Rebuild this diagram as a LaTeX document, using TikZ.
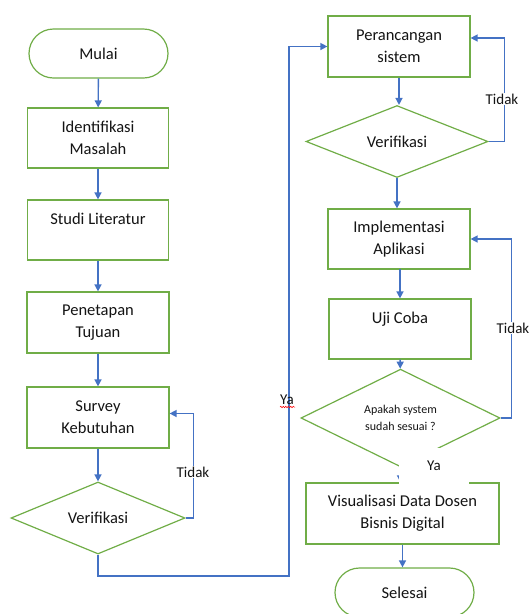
\documentclass[tikz,border=0pt]{standalone}
\usepackage{fontspec}
\setmainfont{Carlito}
\usetikzlibrary{shapes.geometric,arrows.meta,decorations.pathmorphing}
\definecolor{gr}{RGB}{112,173,71}
\definecolor{bl}{RGB}{68,114,196}
\definecolor{tx}{RGB}{20,20,20}
\begin{document}
\begin{tikzpicture}[x=1pt,y=-1pt,
  box/.style={draw=gr, line width=1.2pt, fill=white, minimum width=142pt, minimum height=61pt,
    inner sep=0pt, align=center, font=\fontsize{16.5}{22}\selectfont, text=tx},
  term/.style={box, rounded corners=24.5pt, minimum height=49pt, minimum width=139pt},
  dec/.style={draw=gr, line width=1.2pt, diamond, inner sep=0pt, align=center,
    font=\fontsize{16.5}{22}\selectfont, text=tx},
  arr/.style={draw=bl, line width=1.4pt, -{Triangle[width=7pt,length=7pt]}},
  lbl/.style={font=\fontsize{15}{17}\selectfont, text=tx, fill=white, inner sep=1pt}]
\useasboundingbox (0,0) rectangle (530,614);
\clip (0,0) rectangle (530,614);
% left column
\node[term] (mulai) at (98.5,53.5) {Mulai};
\node[box, minimum width=141pt, minimum height=60pt] (ident) at (98,138) {Identifikasi\\Masalah};
\node[box, minimum width=141pt, minimum height=60pt] (studi) at (98,230) {Studi Literatur\\\mbox{}};
\node[box] (tujuan) at (98,322.5) {Penetapan\\Tujuan};
\node[box] (survey) at (98,417.5) {Survey\\Kebutuhan};
\node[dec, minimum width=174pt, minimum height=72pt] (v1) at (98,518) {Verifikasi};
% right column
\node[box] (ranc) at (399,46.5) {Perancangan\\sistem};
\node[dec, minimum width=182pt, minimum height=63pt] (v2) at (397,141.5) {Verifikasi};
\node[box, minimum height=60pt] (impl) at (399,239) {Implementasi\\Aplikasi};
\node[box, minimum height=60pt] (uji) at (400,329) {Uji Coba\\\mbox{}};
\node[dec, minimum width=199pt, minimum height=81pt, font=\fontsize{12}{16.5}\selectfont] (v3) at (400.5,418) {Apakah system\\sudah sesuai ?};
\node[box, minimum width=193pt] (vis) at (402.5,513.5) {Visualisasi Data Dosen\\Bisnis Digital};
\node[term] (selesai) at (404.5,592.5) {Selesai};
\coordinate (ya1) at (289,576);
% connectors
\draw[arr] (mulai) -- (ident);
\draw[arr] (ident) -- (studi);
\draw[arr] (studi) -- (tujuan);
\draw[arr] (tujuan) -- (survey);
\draw[arr] (survey) -- (v1);
\draw[arr] (v1.east) -- ++(8,0) |- ([yshift=4pt]survey.east);
\draw[arr] (v1.south) |- (ya1) |- (ranc.west);
\draw[arr] (ranc.south) -- (ranc.south |- v2.north);
\draw[arr] (v2.east) -- ++(16,0) |- ([yshift=8.5pt]ranc.east);
\draw[arr] (v2.south) -- (v2.south |- impl.north);
\draw[arr] (impl.south) -- (impl.south -| uji.south) -- (uji.north);
\draw[arr] (uji) -- (v3);
\draw[arr] (v3.east) -- ++(11,0) |- (impl.east);
\draw[arr] (v3.south) -- (v3.south |- vis.north);
\draw[arr] (vis.south) -- (vis.south |- selesai.north);
% labels
\node[lbl] (t1) at (193,472) {Tidak};
\node[lbl] (t2) at (502,99) {Tidak};
\node[lbl] (t3) at (513,328) {Tidak};
\node[font=\fontsize{15}{17}\selectfont, text=tx, inner sep=0pt] (ya2) at (287,400) {Ya};
\draw[red, line width=0.5pt, decorate, decoration={snake, amplitude=0.8pt, segment length=2.5pt}] (280,407) -- (295,407);
\node[lbl, minimum width=70pt, minimum height=36pt, inner sep=0pt] (ya3) at (434,466) {Ya};
\end{tikzpicture}
\end{document}
